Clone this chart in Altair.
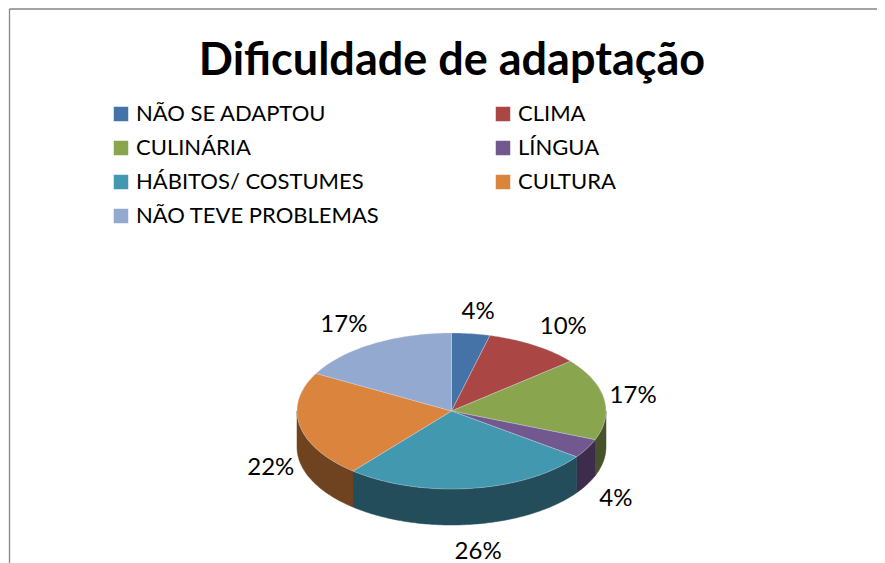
import numpy as np
import pandas as pd
import altair as alt

TITLE = "Dificuldade de adaptação"
categories = ["NÃO SE ADAPTOU", "CLIMA", "CULINÁRIA", "LÍNGUA", "HÁBITOS/ COSTUMES", "CULTURA", "NÃO TEVE PROBLEMAS"]
values = [4, 10, 17, 4, 26, 22, 17]
top_colors = ["#4572A7", "#AA4643", "#89A54E", "#71588F", "#4198AF", "#DB843D", "#93A9CF"]
wall_colors = ["#263E5B", "#5D2624", "#47522A", "#3D2C4B", "#234D5B", "#6F431F", "#505C70"]
# the legend fills column by column; this order reads row by row as in the reference
legend_order = [0, 2, 4, 6, 1, 3, 5]

RIGHT, H = 877, 563
CX, CY, RX, RY, DEPTH = 451.5, 411.0, 154.5, 78.0, 36.0

edges = np.cumsum([0] + values) / sum(values) * 2 * np.pi
top_rows, wall_rows, label_rows = [], [], []
for k, cat in enumerate(categories):
    a, b = edges[k], edges[k + 1]
    ts = np.linspace(a, b, max(int((b - a) * 60), 4))
    xs = CX + RX * np.sin(ts)
    ys = CY - RY * np.cos(ts)
    pts = [(CX, CY)] + list(zip(xs, ys)) + [(CX, CY)]
    for i, (x, y) in enumerate(pts):
        top_rows.append(dict(cat=cat, i=i, x=x, y=y))
    # side wall: only the part of the rim facing the viewer
    lo, hi = max(a, np.pi / 2), min(b, 3 * np.pi / 2)
    if hi > lo:
        ws = np.linspace(lo, hi, max(int((hi - lo) * 60), 4))
        wx = CX + RX * np.sin(ws)
        wy = CY - RY * np.cos(ws)
        ring = list(zip(wx, wy)) + list(zip(wx[::-1], wy[::-1] + DEPTH))
        ring.append(ring[0])
        for i, (x, y) in enumerate(ring):
            wall_rows.append(dict(cat=cat, i=i, x=x, y=y, wall=wall_colors[k]))
    # outside-end label position, from the slice's middle angle
    m = (a + b) / 2
    s, c = np.sin(m), np.cos(m)
    lx = CX + RX * s + 29 * np.sign(s) * min(1, 2 * abs(s))
    ly = CY + 1 - RY * c - (23 if c > 0 else 27) * c + (DEPTH if c < 0 else 0)
    label_rows.append(dict(x=lx, y=ly, text=f"{values[k]}%"))

top_df = pd.DataFrame(top_rows)
wall_df = pd.DataFrame(wall_rows)
label_df = pd.DataFrame(label_rows)
title_df = pd.DataFrame({"x": [452.0], "y": [75.0], "text": [TITLE]})

xs = alt.Scale(domain=[8, RIGHT], nice=False, zero=False)
ys = alt.Scale(domain=[H, 8], nice=False, zero=False)
X = alt.X("x:Q", scale=xs, axis=None)
Y = alt.Y("y:Q", scale=ys, axis=None)

frame_df = pd.DataFrame({"x": [9.5, 9.5], "x2": [RIGHT, 9.5], "y": [9.0, 9.0], "y2": [9.0, H]})
frame = alt.Chart(frame_df).mark_rule(color="#868686", strokeWidth=1.3).encode(
    x=X, x2="x2:Q", y=Y, y2="y2:Q"
)

walls = alt.Chart(wall_df).mark_line(strokeWidth=0.5).encode(
    x=X, y=Y, order="i:Q", detail="cat:N",
    fill=alt.Fill("wall:N", scale=None, legend=None),
    stroke=alt.Stroke("wall:N", scale=None, legend=None),
)

tops = alt.Chart(top_df).mark_line(stroke="#d8dde4", strokeWidth=0.5, strokeOpacity=0.7).encode(
    x=X, y=Y, order="i:Q",
    fill=alt.Fill(
        "cat:N",
        scale=alt.Scale(
            domain=[categories[i] for i in legend_order],
            range=[top_colors[i] for i in legend_order],
        ),
        sort=[categories[i] for i in legend_order],
        legend=alt.Legend(
            title=None, orient="none", legendX=102, legendY=95, columns=2,
            symbolType="square", symbolSize=210, symbolStrokeWidth=0,
            labelFont="Lato", labelFontSize=22, labelColor="#000000",
            labelOffset=4, rowPadding=12, columnPadding=112, labelLimit=400,
        ),
    ),
)

labels = alt.Chart(label_df).mark_text(font="Lato", fontSize=24, color="#000000").encode(
    x=X, y=Y, text="text:N"
)

title = alt.Chart(title_df).mark_text(
    font="Lato", fontSize=45, fontWeight="bold", color="#000000",
    align="center", baseline="alphabetic",
).encode(x=X, y=Y, text="text:N")

chart = alt.layer(frame, walls, tops, labels, title).resolve_scale(
    fill="independent", stroke="independent"
).resolve_legend(fill="independent").properties(
    width=RIGHT - 8, height=H - 8,
    padding=0,
    autosize=alt.AutoSizeParams(type="none"),
).configure_view(stroke=None)

chart.save("out.html", embed_options={"renderer": "svg", "actions": False})
